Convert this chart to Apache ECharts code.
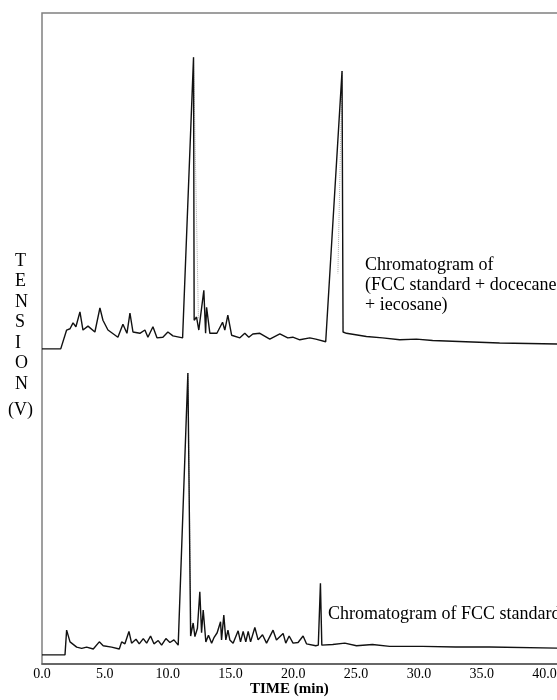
<!DOCTYPE html>
<html>
<head>
<meta charset="utf-8">
<script src="https://cdn.jsdelivr.net/npm/echarts@6/dist/echarts.min.js"></script>
<style>
  html, body { margin: 0; padding: 0; background: #fff; }
  #chart { width: 557px; height: 700px; }
</style>
</head>
<body>
<div id="chart"></div>
<script>
// 时间刻度
const xTicks = [0, 5, 10, 15, 20, 25, 30, 35, 40];

// FCC standard + docecane + iecosane (上方曲线)
const mixTime = [0, 1.49, 1.96, 2.23, 2.47, 2.70, 3.02, 3.26, 3.66, 4.21, 4.61, 4.85, 5.25, 6.04, 6.44, 6.76, 7.00, 7.24, 7.79, 8.19, 8.43, 8.83, 9.15, 9.62, 10.02, 10.42, 11.19,
  12.06, 12.11, 12.30, 12.48, 12.88, 13.02, 13.10, 13.36, 13.92, 14.37, 14.55, 14.79, 15.09, 15.75, 16.14, 16.46, 16.78, 17.34, 18.13, 18.93, 19.56, 19.96, 20.52, 21.31, 21.79, 22.58,
  23.88, 23.96, 24.23, 25.82, 27.1, 28.47, 29.8, 31.09, 33.72, 36.42, 42.5];
const mixValue = [48.4, 48.4, 51.3, 51.5, 52.4, 51.8, 54.1, 51.3, 51.9, 51.0, 54.7, 52.8, 51.3, 50.2, 52.2, 50.8, 53.9, 51.0, 50.8, 51.3, 50.2, 51.8, 50.1, 50.2, 51.0, 50.4, 50.1,
  93.2, 52.8, 53.3, 51.3, 57.4, 50.8, 54.8, 50.8, 50.8, 52.5, 51.3, 53.6, 50.5, 50.1, 50.8, 50.2, 50.7, 50.8, 49.9, 50.7, 50.1, 50.2, 49.8, 50.1, 49.9, 49.5,
  91.1, 51.0, 50.8, 50.3, 50.1, 49.8, 49.9, 49.7, 49.5, 49.3, 49.1];

// FCC standard (下方曲线)
const fccTime = [0, 1.83, 1.96, 2.23, 2.76, 3.16, 3.55, 4.08, 4.56, 4.87, 5.54, 6.15, 6.34, 6.60, 6.92, 7.13, 7.48, 7.74, 8.06, 8.33, 8.64, 8.91, 9.25, 9.52, 9.86, 10.18, 10.50, 10.84, 10.93,
  11.61, 11.83, 12.03, 12.17, 12.37, 12.56, 12.70, 12.83, 13.04, 13.25, 13.50, 13.70, 13.94, 14.21, 14.29, 14.47, 14.63, 14.80, 14.95, 15.21, 15.61, 15.80, 16.01, 16.22, 16.41, 16.60, 16.94, 17.20, 17.55, 17.87,
  18.39, 18.66, 19.19, 19.40, 19.67, 19.98, 20.38, 20.78, 21.05, 21.79, 21.99, 22.16, 22.27, 22.35, 23.14, 24.1, 25.03, 26.3, 27.67, 30.30, 32.92, 35.63, 42.5];
const fccValue = [1.4, 1.4, 5.2, 3.4, 2.6, 2.4, 2.6, 2.3, 3.4, 2.8, 2.6, 2.3, 3.4, 3.1, 5.0, 3.2, 3.8, 3.1, 3.9, 3.2, 4.3, 3.1, 3.6, 2.9, 3.9, 3.3, 3.7, 2.9, 3.1,
  44.7, 4.3, 6.3, 4.2, 5.5, 11.1, 4.8, 8.3, 3.4, 4.4, 3.2, 4.1, 4.8, 6.5, 3.7, 7.5, 3.7, 5.2, 3.7, 3.2, 5.1, 3.4, 5.0, 3.4, 5.0, 3.4, 5.6, 3.7, 4.5, 3.2,
  5.2, 3.7, 4.7, 3.2, 4.3, 3.2, 3.3, 4.3, 3.1, 2.8, 2.9, 12.4, 2.9, 2.8, 3.0, 3.2, 2.8, 3.0, 2.7, 2.7, 2.6, 2.6, 2.4];

// 峰右侧的虚线 (null 断开)
const dotTime = [12.06, 12.45, null, 23.88, 23.55, null, 11.61, 11.85];
const dotValue = [93.2, 53.0, null, 91.1, 60.0, null, 44.7, 5.0];

const yLetters = ["T", "E", "N", "S", "I", "O", "N", "(V)"];
const serif = "Liberation Serif";

const pairs = (xs, ys) => xs.map((x, i) => [x, ys[i]]);

let myChart = echarts.init(document.getElementById("chart"));

const graphics = yLetters.map((s, i) => ({
  type: "text",
  left: s === "(V)" ? 8 : 15,
  top: i < 7 ? 252 + i * 20.5 : 401,
  style: { text: s, font: "18px " + serif, fill: "#000" }
}));
graphics.push(
  { type: "text", left: 365, top: 255, style: { text: "Chromatogram of\n(FCC standard + docecane\n+ iecosane)", font: "18px " + serif, lineHeight: 20, fill: "#000" } },
  { type: "text", left: 328, top: 605, style: { text: "Chromatogram of FCC standard", font: "18px " + serif, fill: "#000" } },
  { type: "text", left: 250, top: 682, style: { text: "TIME (min)", font: "bold 15px " + serif, fill: "#000" } }
);

var option = {
  animation: false,
  grid: {
    left: 42, top: 13, width: 534, height: 651, show: true,
    outerBoundsMode: "none",
    borderColor: "#808080", borderWidth: 1.5
  },
  xAxis: {
    type: "value", min: 0, max: 42.5, interval: 5,
    axisLine: { show: true, lineStyle: { color: "#555", width: 1.5 } },
    axisTick: { show: false },
    splitLine: { show: false },
    axisLabel: {
      margin: 3, color: "#000", fontFamily: serif, fontSize: 14,
      formatter: v => (xTicks.indexOf(v) >= 0 ? v.toFixed(1) : "")
    }
  },
  yAxis: {
    type: "value", min: 0, max: 100,
    axisLine: { show: false }, axisTick: { show: false },
    axisLabel: { show: false }, splitLine: { show: false }
  },
  series: [
    { name: "dot", type: "line", data: pairs(dotTime, dotValue), showSymbol: false, connectNulls: false, lineStyle: { color: "#aaa", width: 1, type: "dotted" } },
    { name: "mix", type: "line", data: pairs(mixTime, mixValue), showSymbol: false, lineStyle: { color: "#111", width: 1.4 } },
    { name: "fcc", type: "line", data: pairs(fccTime, fccValue), showSymbol: false, lineStyle: { color: "#111", width: 1.4 } }
  ],
  graphic: graphics
};

myChart.setOption(option);
window.addEventListener("resize", function () {
  myChart.resize();
});
</script>
</body>
</html>
